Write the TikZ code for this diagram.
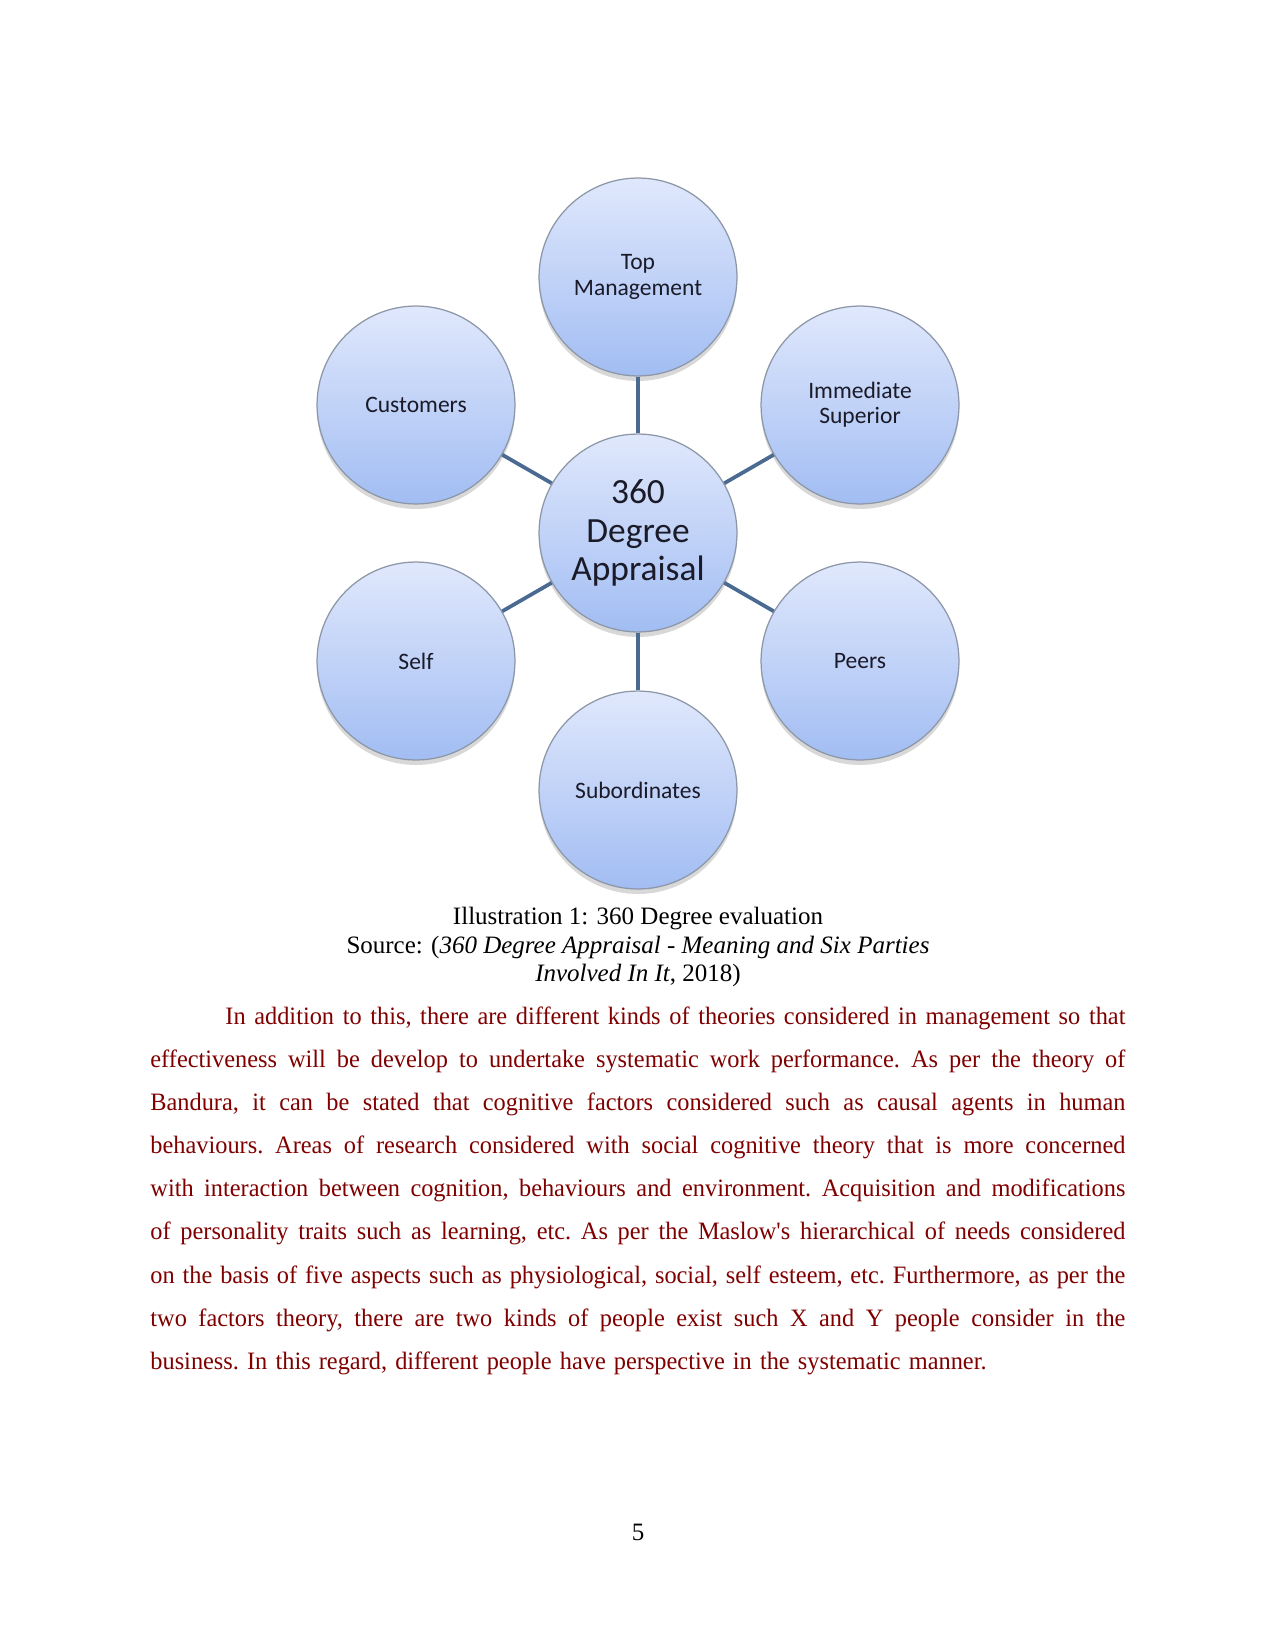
\documentclass[tikz,border=0pt]{standalone}
\usepackage{fontspec}
\setmainfont{Liberation Serif}
\newfontfamily\bodyfont{Liberation Serif}[FakeStretch=0.974]
\newfontfamily\bubblefont{Carlito}
\usetikzlibrary{shadows}
\definecolor{bodyred}{HTML}{800000}
\definecolor{bubtop}{HTML}{E0E8FC}
\definecolor{bubbot}{HTML}{A2BDF3}
\definecolor{bubedge}{HTML}{8C97A8}
\definecolor{linkcol}{HTML}{4A6A92}
\definecolor{bubtext}{HTML}{1A1A28}
\tikzset{
  bubble/.style={circle, minimum size=95pt, inner sep=0pt, align=center,
    top color=bubtop, bottom color=bubbot, draw=bubedge, line width=0.6pt,
    text=bubtext, font=\bubblefont\fontsize{11.3}{12.1}\selectfont,
    drop shadow={shadow xshift=0pt, shadow yshift=-2.4pt, opacity=0.25, fill=black!60}},
  hubbubble/.style={bubble, font=\bubblefont\fontsize{17}{18.4}\selectfont},
  link/.style={draw=linkcol, line width=1.8pt},
  captext/.style={align=center, font=\fontsize{12}{13.8}\selectfont, inner sep=0pt},
  bodytext/.style={text width=468pt, inner sep=0pt, anchor=base west, text=bodyred,
    align=justify, font=\bodyfont\fontsize{12}{20.72}\selectfont},
}
\begin{document}
\begin{tikzpicture}[x=0.48pt,y=-0.48pt]
\useasboundingbox (0,0) rectangle (1275,1651);
\fill[white] (0,0) rectangle (1275,1651);

\node[hubbubble] (c) at (638,533) {360\\Degree\\Appraisal};
\node[bubble] (t) at (638,277) {Top\\Management};
\node[bubble] (cu) at (416,405) {Customers};
\node[bubble] (is) at (860,405) {Immediate\\Superior};
\node[bubble] (se) at (416,661) {Self};
\node[bubble] (pe) at (860,661) {Peers};
\node[bubble] (su) at (638,790) {Subordinates};

\draw[link] (c) -- (t);
\draw[link] (c) -- (cu);
\draw[link] (c) -- (is);
\draw[link] (c) -- (se);
\draw[link] (c) -- (pe);
\draw[link] (c) -- (su);

\node[captext] (cap) at (638,947) {Illustration 1: 360 Degree evaluation\\
Source: (\textit{360 Degree Appraisal - Meaning and Six Parties}\\
\textit{Involved In It}, 2018)};

\node[bodytext] (body) at (150,1024) {\frenchspacing\spaceskip=3.9pt plus 3pt minus 1.7pt\parindent=36pt\hyphenpenalty=10000\tolerance=10000\emergencystretch=20pt\indent
In addition to this, there are different kinds of theories considered in management so that\linebreak
effectiveness will be develop to undertake systematic work performance. As per the theory of\linebreak
Bandura, it can be stated that cognitive factors considered such as causal agents in human\linebreak
behaviours. Areas of research considered with social cognitive theory that is more concerned\linebreak
with interaction between cognition, behaviours and environment. Acquisition and modifications\linebreak
of personality traits such as learning, etc. As per the Maslow\textquotesingle s hierarchical of needs considered\linebreak
on the basis of five aspects such as physiological, social, self esteem, etc. Furthermore, as per the\linebreak
two factors theory, there are two kinds of people exist such X and Y people consider in the\linebreak
business. In this regard, different people have perspective in the systematic manner.\par};

\node[font=\fontsize{12}{14}\selectfont, inner sep=0pt] (pg) at (638,1532) {5};
\end{tikzpicture}
\end{document}
